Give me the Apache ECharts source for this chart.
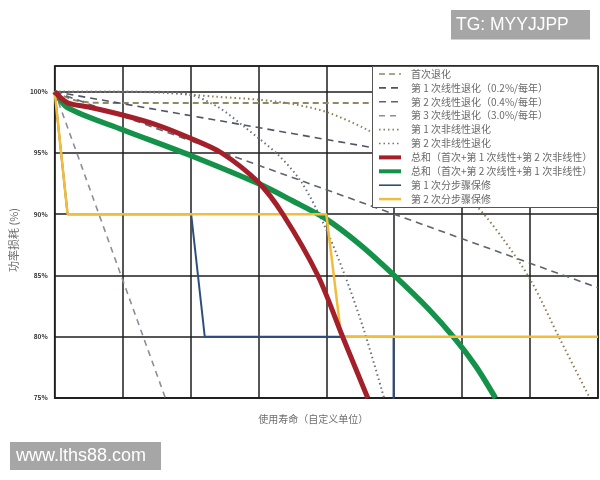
<!DOCTYPE html>
<html><head><meta charset="utf-8">
<script src="https://cdn.jsdelivr.net/npm/echarts@6/dist/echarts.min.js"></script>
<style>html,body{margin:0;padding:0;background:#fff}#c{width:600px;height:480px}</style>
</head><body><div id="c"></div>
<script>
// ---- data (x = service life in custom units, y = power %) ----
const seriesNames = [
  '首次退化',
  '第 1 次线性退化（0.2%/每年）',
  '第 2 次线性退化（0.4%/每年）',
  '第 3 次线性退化（3.0%/每年）',
  '第 1 次非线性退化',
  '第 2 次非线性退化',
  '总和（首次+第 1 次线性+第 2 次非线性）',
  '总和（首次+第 2 次线性+第 1 次非线性）',
  '第 1 次分步骤保修',
  '第 2 次分步骤保修'
];
const yTicks = [75, 80, 85, 90, 95, 100];
const yTickLabels = ['75%', '80%', '85%', '90%', '95%', '100%'];
const xTitle = '使用寿命（自定义单位）';
const yTitle = '功率损耗 (%)';

const firstDeg   = [[0,100],[0.15,99.6],[0.3,99.3],[0.5,99.12],[0.7,99.08],[8,99.08]];
const linear1    = [[0,100],[8,92.2]];
const linear2    = [[0,100],[8,84.0]];
const linear3    = [[0,100],[1.63,75]];
const nonlinear1 = [[0,100],[1.0,100],[1.63,99.9],[2.36,99.6],[3.0,99.35],[3.5,99.0],[4.0,98.35],[4.6,96.9],[5.2,94.9],[5.75,92.6],[6.22,90.6],[6.6,88.0],[7.0,84.7],[7.44,79.8],[7.88,75.0]];
const nonlinear2 = [[0,100],[1.4,100],[2.0,99.75],[2.42,98.7],[2.8,97.1],[3.29,94.85],[3.63,92.65],[3.97,89.1],[4.26,85.2],[4.55,80.6],[4.85,75.0]];
const totalRed   = [[0,100],[0.19,99.1],[0.5,98.75],[1.0,98.1],[1.5,97.3],[2.0,96.2],[2.46,95.0],[3.0,92.6],[3.36,90.0],[3.875,85.0],[4.24,80.0],[4.61,75.0]];
const totalGreen = [[0,100],[0.19,98.7],[1.0,96.9],[2.0,94.8],[3.0,92.5],[3.5,91.1],[4.0,89.6],[4.5,87.5],[5.0,85.0],[5.5,82.3],[5.9,79.8],[6.2,77.6],[6.49,75.0]];
const warranty1  = [[0,100],[0.19,90],[2.01,90],[2.21,80],[4.99,80],[4.99,74]];
const warranty2  = [[0,100],[0.19,90],[4.0,90],[4.22,80],[8,80]];

const seriesData = [firstDeg, linear1, linear2, linear3, nonlinear1, nonlinear2, totalRed, totalGreen, warranty1, warranty2];

// ---- styles ----
const styles = [
  {color:'#8e8b62', width:2,   type:[6,4], smooth:0,  z:3},
  {color:'#4f5564', width:1.6, type:[7,5], smooth:0, z:3},
  {color:'#5d636f', width:1.6, type:[7,5], smooth:0, z:3},
  {color:'#8a8e96', width:1.6, type:[6,5], smooth:0, z:3},
  {color:'#8b7d55', width:2,   type:[1.5,3], smooth:0.3, z:3},
  {color:'#6c7382', width:2,   type:[1.5,3], smooth:0.3, z:3},
  {color:'#a3202a', width:5,   type:'solid', smooth:0.3, z:6},
  {color:'#15924a', width:5.5, type:'solid', smooth:0.3, z:5},
  {color:'#2f4d7c', width:2,   type:'solid', smooth:0, z:4},
  {color:'#f2bd3c', width:2.5, type:'solid', smooth:0, z:5}
];

const series = seriesNames.map((name, i) => ({
  name, type:'line', data: seriesData[i], symbol:'none', showSymbol:false,
  smooth: styles[i].smooth || false,
  lineStyle:{color:styles[i].color, width:styles[i].width, type:styles[i].type},
  itemStyle:{color:styles[i].color},
  z: styles[i].z, animation:false, clip:true
}));

const legendData = seriesNames.map((name, i) => {
  const w = styles[i].width >= 5 ? 4 : (styles[i].width >= 2.5 ? 2.5 : 1.6);
  return {name, lineStyle:{width:w}, itemStyle:{opacity:0}};
});

const chart = echarts.init(document.getElementById('c'), null, {renderer:'canvas'});
chart.setOption({
  animation:false,
  backgroundColor:'#fff',
  textStyle:{fontFamily:'"Noto Sans CJK SC", "Noto Sans", sans-serif'},
  grid:{left:52, right:2, top:66, bottom:82, show:true, borderColor:'#1e1e1e', borderWidth:1.5, backgroundColor:'transparent'},
  xAxis:{
    type:'value', min:0, max:8, interval:1,
    axisLine:{show:true, lineStyle:{color:'#1e1e1e', width:1.5}},
    axisTick:{show:false}, axisLabel:{show:false},
    splitLine:{show:true, lineStyle:{color:'#1e1e1e', width:1.5}},
    name:xTitle, nameLocation:'middle', nameGap:16,
    nameTextStyle:{fontSize:10, color:'#6e6e6e', padding:[0,26,0,0]}
  },
  yAxis:{
    type:'value', min:75, max:102.1, interval:5,
    axisLine:{show:false}, axisTick:{show:false},
    axisLabel:{fontSize:6.5, color:'#333', fontWeight:'bold', margin:7,
      formatter: v => { const k = yTicks.indexOf(v); return k >= 0 ? yTickLabels[k] : ''; }},
    splitLine:{show:true, lineStyle:{color:'#1e1e1e', width:1.5}},
    name:yTitle, nameLocation:'middle', nameGap:28,
    nameTextStyle:{fontSize:11, color:'#6e6e6e', padding:[0,16,0,0]}
  },
  legend:{
    orient:'vertical', left:372, top:66, padding:[2,6,3,5],
    itemWidth:22, itemHeight:8, itemGap:1.9,
    itemStyle:{opacity:0, borderWidth:0},
    textStyle:{fontSize:10, color:'#6a6a6a', lineHeight:12, padding:[0,0,0,5]},
    data: legendData, selectedMode:false, z:8
  },
  graphic:[
    {type:'rect', z:7, shape:{x:372.5, y:66.5, width:225, height:141}, style:{fill:'#fff', stroke:'#555', lineWidth:1}},
    {type:'rect', z:20, shape:{x:451, y:10, width:139, height:29.5}, style:{fill:'#a6a6a6'}},
    {type:'text', z:21, x:456, y:25.5, style:{text:'TG: MYYJJPP', fill:'#fff', fontSize:17.5, fontFamily:'"Liberation Sans", Arial, sans-serif', verticalAlign:'middle'}},
    {type:'rect', z:20, shape:{x:10, y:442, width:151, height:28}, style:{fill:'#a6a6a6'}},
    {type:'text', z:21, x:16, y:456, style:{text:'www.lths88.com', fill:'#fff', fontSize:18, fontFamily:'"Liberation Sans", Arial, sans-serif', verticalAlign:'middle'}}
  ],
  series
});
</script></body></html>
